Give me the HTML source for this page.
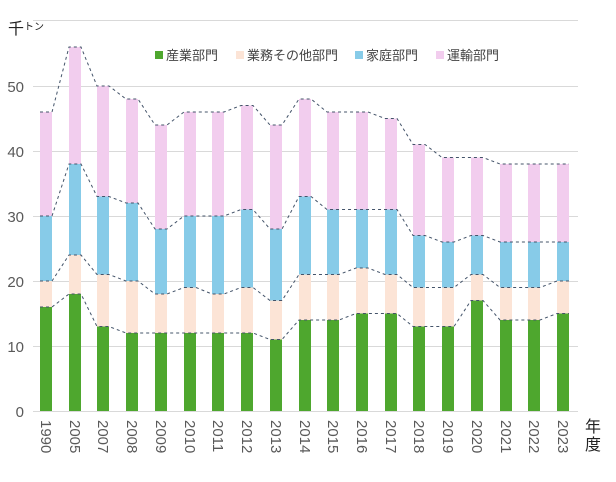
<!DOCTYPE html>
<html><head><meta charset="utf-8"><style>
body{margin:0;background:#fff;}
svg text{font-family:"Liberation Sans","Noto Sans CJK JP",sans-serif;}
</style></head><body>
<svg width="616" height="477" xmlns="http://www.w3.org/2000/svg">
<g stroke="#d9d9d9" stroke-width="1">
<line x1="33" x2="578" y1="20.5" y2="20.5"/>
<line x1="33" x2="578" y1="86.5" y2="86.5"/>
<line x1="33" x2="578" y1="151.5" y2="151.5"/>
<line x1="33" x2="578" y1="216.5" y2="216.5"/>
<line x1="33" x2="578" y1="281.5" y2="281.5"/>
<line x1="33" x2="578" y1="346.5" y2="346.5"/>
<line x1="33" x2="578" y1="411.5" y2="411.5"/>
</g>
<g font-size="15" fill="#595959" text-anchor="end">
<text x="24" y="92">50</text><text x="24" y="157">40</text><text x="24" y="222">30</text>
<text x="24" y="287">20</text><text x="24" y="352">10</text><text x="24" y="417">0</text>
</g>
<text x="8" y="34" font-size="16" fill="#222">千<tspan font-size="10" dy="-4">トン</tspan></text>
<g id="bars">
<g transform="translate(40,0)"><rect width="12" y="307" height="104" fill="#4ea72e"/><rect width="12" y="281" height="26" fill="#fce4d6"/><rect width="12" y="216" height="65" fill="#87cbe8"/><rect width="12" y="112" height="104" fill="#f2cdee"/></g>
<g transform="translate(69,0)"><rect width="12" y="294" height="117" fill="#4ea72e"/><rect width="12" y="255" height="39" fill="#fce4d6"/><rect width="12" y="164" height="91" fill="#87cbe8"/><rect width="12" y="47" height="117" fill="#f2cdee"/></g>
<g transform="translate(97,0)"><rect width="12" y="326.5" height="84.5" fill="#4ea72e"/><rect width="12" y="274.5" height="52" fill="#fce4d6"/><rect width="12" y="196.5" height="78" fill="#87cbe8"/><rect width="12" y="86" height="110.5" fill="#f2cdee"/></g>
<g transform="translate(126,0)"><rect width="12" y="333" height="78" fill="#4ea72e"/><rect width="12" y="281" height="52" fill="#fce4d6"/><rect width="12" y="203" height="78" fill="#87cbe8"/><rect width="12" y="99" height="104" fill="#f2cdee"/></g>
<g transform="translate(155,0)"><rect width="12" y="333" height="78" fill="#4ea72e"/><rect width="12" y="294" height="39" fill="#fce4d6"/><rect width="12" y="229" height="65" fill="#87cbe8"/><rect width="12" y="125" height="104" fill="#f2cdee"/></g>
<g transform="translate(184,0)"><rect width="12" y="333" height="78" fill="#4ea72e"/><rect width="12" y="287.5" height="45.5" fill="#fce4d6"/><rect width="12" y="216" height="71.5" fill="#87cbe8"/><rect width="12" y="112" height="104" fill="#f2cdee"/></g>
<g transform="translate(212,0)"><rect width="12" y="333" height="78" fill="#4ea72e"/><rect width="12" y="294" height="39" fill="#fce4d6"/><rect width="12" y="216" height="78" fill="#87cbe8"/><rect width="12" y="112" height="104" fill="#f2cdee"/></g>
<g transform="translate(241,0)"><rect width="12" y="333" height="78" fill="#4ea72e"/><rect width="12" y="287.5" height="45.5" fill="#fce4d6"/><rect width="12" y="209.5" height="78" fill="#87cbe8"/><rect width="12" y="105.5" height="104" fill="#f2cdee"/></g>
<g transform="translate(270,0)"><rect width="12" y="339.5" height="71.5" fill="#4ea72e"/><rect width="12" y="300.5" height="39" fill="#fce4d6"/><rect width="12" y="229" height="71.5" fill="#87cbe8"/><rect width="12" y="125" height="104" fill="#f2cdee"/></g>
<g transform="translate(299,0)"><rect width="12" y="320" height="91" fill="#4ea72e"/><rect width="12" y="274.5" height="45.5" fill="#fce4d6"/><rect width="12" y="196.5" height="78" fill="#87cbe8"/><rect width="12" y="99" height="97.5" fill="#f2cdee"/></g>
<g transform="translate(327,0)"><rect width="12" y="320" height="91" fill="#4ea72e"/><rect width="12" y="274.5" height="45.5" fill="#fce4d6"/><rect width="12" y="209.5" height="65" fill="#87cbe8"/><rect width="12" y="112" height="97.5" fill="#f2cdee"/></g>
<g transform="translate(356,0)"><rect width="12" y="313.5" height="97.5" fill="#4ea72e"/><rect width="12" y="268" height="45.5" fill="#fce4d6"/><rect width="12" y="209.5" height="58.5" fill="#87cbe8"/><rect width="12" y="112" height="97.5" fill="#f2cdee"/></g>
<g transform="translate(385,0)"><rect width="12" y="313.5" height="97.5" fill="#4ea72e"/><rect width="12" y="274.5" height="39" fill="#fce4d6"/><rect width="12" y="209.5" height="65" fill="#87cbe8"/><rect width="12" y="118.5" height="91" fill="#f2cdee"/></g>
<g transform="translate(413,0)"><rect width="12" y="326.5" height="84.5" fill="#4ea72e"/><rect width="12" y="287.5" height="39" fill="#fce4d6"/><rect width="12" y="235.5" height="52" fill="#87cbe8"/><rect width="12" y="144.5" height="91" fill="#f2cdee"/></g>
<g transform="translate(442,0)"><rect width="12" y="326.5" height="84.5" fill="#4ea72e"/><rect width="12" y="287.5" height="39" fill="#fce4d6"/><rect width="12" y="242" height="45.5" fill="#87cbe8"/><rect width="12" y="157.5" height="84.5" fill="#f2cdee"/></g>
<g transform="translate(471,0)"><rect width="12" y="300.5" height="110.5" fill="#4ea72e"/><rect width="12" y="274.5" height="26" fill="#fce4d6"/><rect width="12" y="235.5" height="39" fill="#87cbe8"/><rect width="12" y="157.5" height="78" fill="#f2cdee"/></g>
<g transform="translate(500,0)"><rect width="12" y="320" height="91" fill="#4ea72e"/><rect width="12" y="287.5" height="32.5" fill="#fce4d6"/><rect width="12" y="242" height="45.5" fill="#87cbe8"/><rect width="12" y="164" height="78" fill="#f2cdee"/></g>
<g transform="translate(528,0)"><rect width="12" y="320" height="91" fill="#4ea72e"/><rect width="12" y="287.5" height="32.5" fill="#fce4d6"/><rect width="12" y="242" height="45.5" fill="#87cbe8"/><rect width="12" y="164" height="78" fill="#f2cdee"/></g>
<g transform="translate(557,0)"><rect width="12" y="313.5" height="97.5" fill="#4ea72e"/><rect width="12" y="281" height="32.5" fill="#fce4d6"/><rect width="12" y="242" height="39" fill="#87cbe8"/><rect width="12" y="164" height="78" fill="#f2cdee"/></g>
</g>
<g fill="none" stroke="#44546a" stroke-width="1" stroke-dasharray="3,3">
<polyline points="40,307 52,307 69,294 81,294 97,326.5 109,326.5 126,333 138,333 155,333 167,333 184,333 196,333 212,333 224,333 241,333 253,333 270,339.5 282,339.5 299,320 311,320 327,320 339,320 356,313.5 368,313.5 385,313.5 397,313.5 413,326.5 425,326.5 442,326.5 454,326.5 471,300.5 483,300.5 500,320 512,320 528,320 540,320 557,313.5 569,313.5"/>
<polyline points="40,281 52,281 69,255 81,255 97,274.5 109,274.5 126,281 138,281 155,294 167,294 184,287.5 196,287.5 212,294 224,294 241,287.5 253,287.5 270,300.5 282,300.5 299,274.5 311,274.5 327,274.5 339,274.5 356,268 368,268 385,274.5 397,274.5 413,287.5 425,287.5 442,287.5 454,287.5 471,274.5 483,274.5 500,287.5 512,287.5 528,287.5 540,287.5 557,281 569,281"/>
<polyline points="40,216 52,216 69,164 81,164 97,196.5 109,196.5 126,203 138,203 155,229 167,229 184,216 196,216 212,216 224,216 241,209.5 253,209.5 270,229 282,229 299,196.5 311,196.5 327,209.5 339,209.5 356,209.5 368,209.5 385,209.5 397,209.5 413,235.5 425,235.5 442,242 454,242 471,235.5 483,235.5 500,242 512,242 528,242 540,242 557,242 569,242"/>
<polyline points="40,112 52,112 69,47 81,47 97,86 109,86 126,99 138,99 155,125 167,125 184,112 196,112 212,112 224,112 241,105.5 253,105.5 270,125 282,125 299,99 311,99 327,112 339,112 356,112 368,112 385,118.5 397,118.5 413,144.5 425,144.5 442,157.5 454,157.5 471,157.5 483,157.5 500,164 512,164 528,164 540,164 557,164 569,164"/>
</g>
<g font-size="15" fill="#595959">
<text transform="translate(41,420) rotate(90)">1990</text>
<text transform="translate(70,420) rotate(90)">2005</text>
<text transform="translate(98,420) rotate(90)">2007</text>
<text transform="translate(127,420) rotate(90)">2008</text>
<text transform="translate(156,420) rotate(90)">2009</text>
<text transform="translate(185,420) rotate(90)">2010</text>
<text transform="translate(213,420) rotate(90)">2011</text>
<text transform="translate(242,420) rotate(90)">2012</text>
<text transform="translate(271,420) rotate(90)">2013</text>
<text transform="translate(300,420) rotate(90)">2014</text>
<text transform="translate(328,420) rotate(90)">2015</text>
<text transform="translate(357,420) rotate(90)">2016</text>
<text transform="translate(386,420) rotate(90)">2017</text>
<text transform="translate(414,420) rotate(90)">2018</text>
<text transform="translate(443,420) rotate(90)">2019</text>
<text transform="translate(472,420) rotate(90)">2020</text>
<text transform="translate(501,420) rotate(90)">2021</text>
<text transform="translate(529,420) rotate(90)">2022</text>
<text transform="translate(558,420) rotate(90)">2023</text>
</g>
<text x="585" y="432" font-size="16" fill="#222">年</text>
<text x="585" y="450" font-size="16" fill="#222">度</text>
<g font-size="13" fill="#444">
<rect x="155" y="51" width="8" height="8" fill="#4ea72e"/><text x="166" y="60">産業部門</text>
<rect x="236" y="51" width="8" height="8" fill="#fce4d6"/><text x="247" y="60">業務その他部門</text>
<rect x="355" y="51" width="8" height="8" fill="#87cbe8"/><text x="366" y="60">家庭部門</text>
<rect x="436" y="51" width="8" height="8" fill="#f2cdee"/><text x="447" y="60">運輸部門</text>
</g>
</svg>
</body></html>
